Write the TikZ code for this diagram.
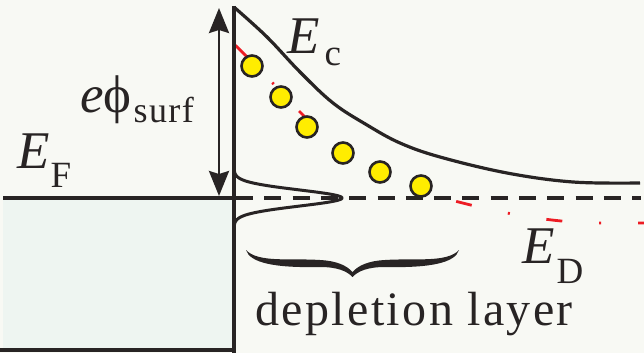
\documentclass[tikz,border=0pt]{standalone}
\usepackage{fontspec}
\setmainfont{Liberation Serif}
\usetikzlibrary{arrows.meta}
\definecolor{bg}{RGB}{248,249,244}
\definecolor{boxfill}{RGB}{238,245,241}
\definecolor{ink}{RGB}{40,36,36}
\definecolor{dred}{RGB}{237,28,36}
\definecolor{ball}{RGB}{255,237,0}
\tikzset{
  band/.style={ink, line width=3.2pt},
  lbl/.style={inner sep=0pt, anchor=base west, text=ink},
  electron/.style={circle, fill=ball, draw=ink, line width=2.6pt, minimum size=21pt, inner sep=0pt},
}
\newcommand{\bigf}{\fontsize{53}{53}\selectfont}
\newcommand{\subf}{\fontsize{37}{37}\selectfont}
\begin{document}
\begin{tikzpicture}[x=1pt,y=-1pt]
\useasboundingbox[fill=bg] (0,0) rectangle (644,353);
% metal block
\fill[boxfill] (3,198) rectangle (234,350);
\draw[band] (0,350) -- (234,350);
\draw[band] (3,198) -- (234,198);
% dashed Fermi level in semiconductor
\draw[ink, line width=3.4pt, dash pattern=on 17pt off 11.3pt] (236,198) -- (641,198);
% red donor level
\draw[dred, line width=2.8pt, dash pattern=on 16pt off 37pt on 2pt off 37pt, dash phase=0pt]
  plot[smooth, tension=0.6] coordinates {(235,45) (267,77) (300,112) (333,143) (367,165) (400,183) (440,197) (507,213) (573,222) (644,223)};
% conduction band edge
\draw[band] plot[smooth, tension=0.6] coordinates {(235,8) (267,37) (300,72) (333,103) (367,125) (400,143) (440,157) (507,173) (573,182) (640,183)};
% Gaussian
\draw[ink, line width=3pt] plot[domain=171:225, samples=90, variable=\t] ({234+108*exp(-(\t-198)*(\t-198)/130)}, \t);
% interface line
\draw[band] (234,6) -- (234,353);
% arrow
\draw[ink, line width=2.6pt, {Stealth[length=25pt,width=20pt,inset=3pt]}-{Stealth[length=25pt,width=20pt,inset=3pt]}] (219,8) -- (219,196);
% electrons
\node[electron] (b1) at (252,66) {};
\node[electron] (b2) at (281,97) {};
\node[electron] (b3) at (307,127) {};
\node[electron] (b4) at (343,153) {};
\node[electron] (b5) at (380,172) {};
\node[electron] (b6) at (421,186) {};
% brace
\fill[ink] (246,250) .. controls (258,263) and (290,258) .. (320,260) .. controls (338,261) and (347,266) .. (352.5,272)
  .. controls (358,266) and (367,261) .. (385,260) .. controls (415,258) and (447,263) .. (459,250)
  .. controls (455,263) and (430,268) .. (385,267) .. controls (368,267) and (358,271) .. (352.5,277)
  .. controls (347,271) and (337,267) .. (320,267) .. controls (275,268) and (250,263) .. (246,250) -- cycle;
% labels
\node[lbl, font=\bigf] (ec) at (287,53) {\textit{E}\kern5pt\raisebox{-12pt}{\subf c}};
\node[lbl, font=\bigf] (ef) at (17,168) {\textit{E}\kern1pt\raisebox{-19pt}{\subf F}};
\node[lbl, font=\bigf] (ed) at (522,263) {\textit{E}\kern2pt\raisebox{-20pt}{\subf D}};
\node[lbl, font=\bigf] (phi) at (80,112) {\textit{e}ϕ\kern2pt\raisebox{-10pt}{\fontsize{36}{36}\selectfont\addfontfeature{LetterSpace=4}surf}};
\node[lbl, font={\fontsize{48}{48}\selectfont\addfontfeature{LetterSpace=5}}] (dl) at (255,325) {depletion layer};
\end{tikzpicture}
\end{document}
